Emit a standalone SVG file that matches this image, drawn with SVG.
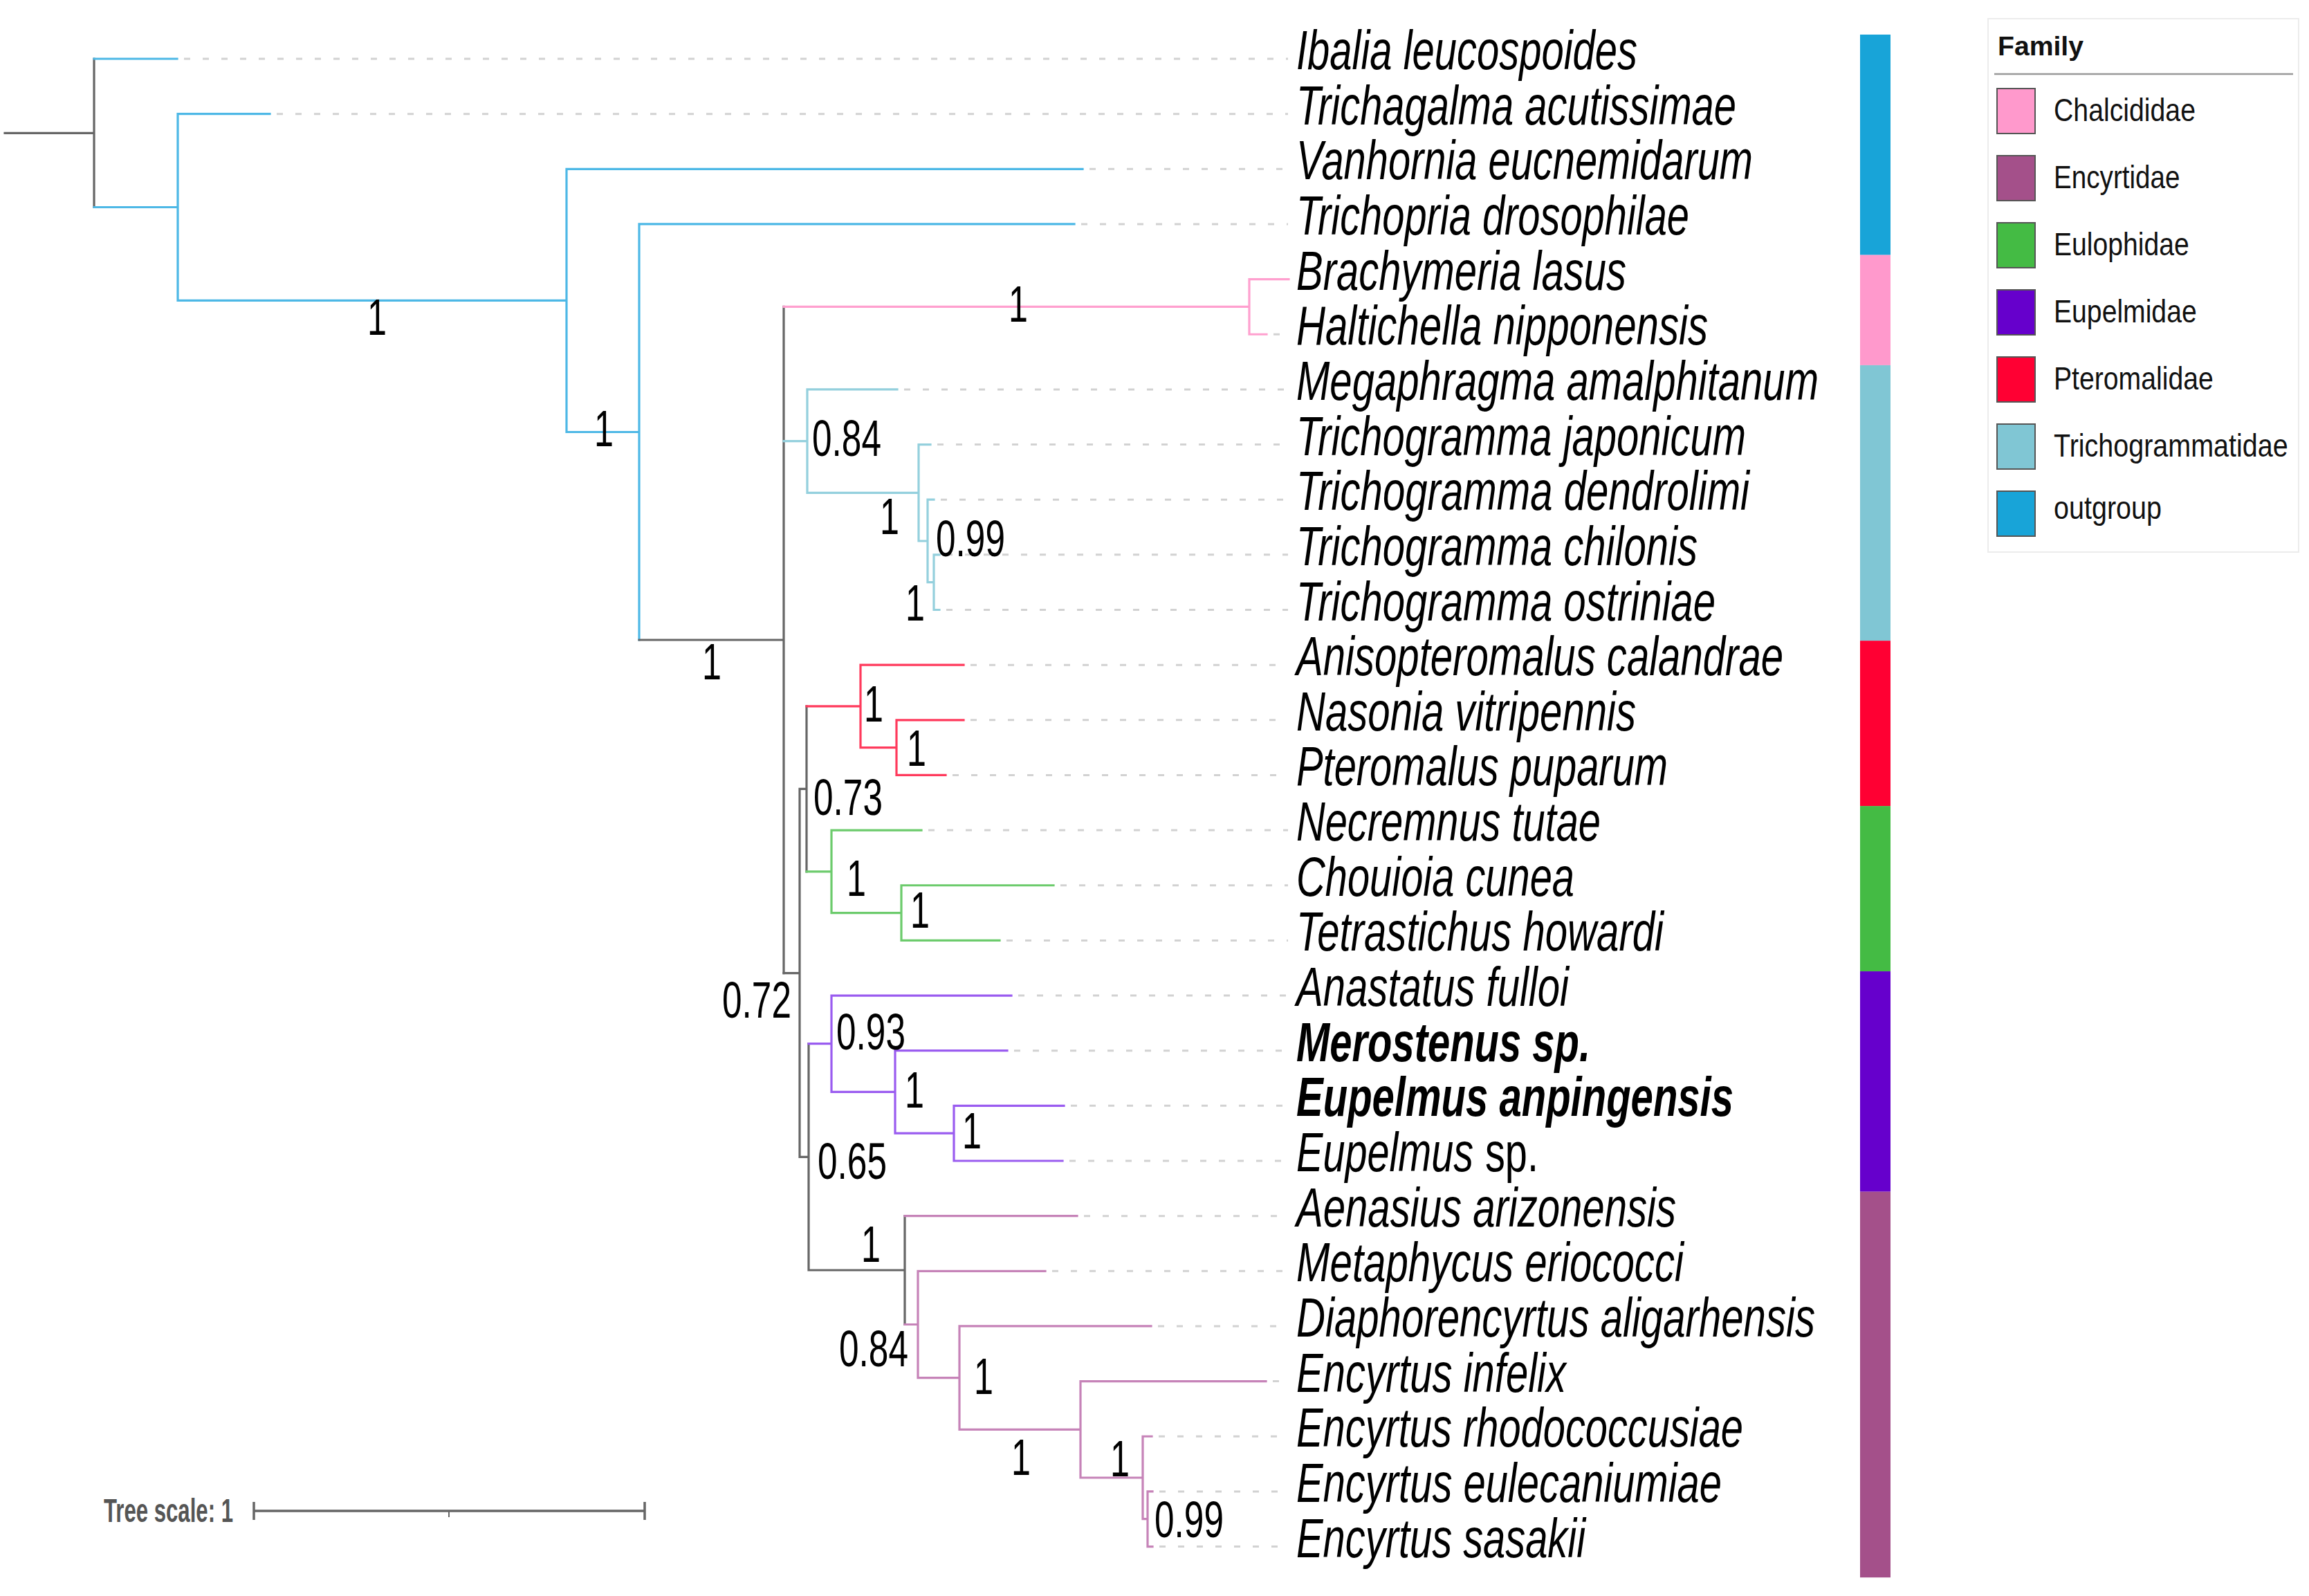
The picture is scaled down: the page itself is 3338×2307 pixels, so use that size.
<svg xmlns="http://www.w3.org/2000/svg" width="3338" height="2307" viewBox="0 0 3338 2307">
<style>
.b{fill:none;stroke-width:3.2;stroke-linecap:square}
.g{stroke:#666}
.o{stroke:#4db8e6}
.c{stroke:#ffa0cf}
.t{stroke:#94d0dd}
.p{stroke:#ff3a5c}
.e{stroke:#6ccb6c}
.u{stroke:#9a5cf0}
.n{stroke:#c683b8}
.d{stroke:#d2d2d2;stroke-width:3;stroke-dasharray:9 18;fill:none}
.sp{font-family:"Liberation Sans",Arial,sans-serif;font-style:italic;font-size:80px;fill:#000}
.bd{font-weight:bold}
.nm{font-family:"Liberation Sans",Arial,sans-serif;font-size:75px;fill:#000}
.lg{font-family:"Liberation Sans",Arial,sans-serif;font-size:47px;fill:#111}
</style>
<rect x="0" y="0" width="3338" height="2307" fill="#fff"/>
<g id="connectors">
<g id="leaders">
<path class="d" d="M266 85H1862M400 164.65H1862M1575 244.3H1862M1563 323.95H1862M1841 483.25H1862M1307 562.9H1862M1355 642.55H1862M1360 722.2H1862M1368 801.85H1862M1368 881.5H1862M1403 961.15H1862M1403 1040.8H1862M1377 1120.45H1862M1342 1200.1H1862M1533 1279.75H1862M1455 1359.4H1862M1472 1439.05H1862M1466 1518.7H1862M1548 1598.35H1862M1546 1678H1862M1567 1757.65H1862M1521 1837.3H1862M1674 1916.95H1862M1840 1996.6H1862M1675 2076.25H1862M1676 2155.9H1862M1676 2235.55H1862"/>
</g>
<path class="b g" d="M7 192.3H136M136 85V299.5"/>
<path class="b o" d="M136 85H256M136 299.5H257M257 164.65V434.4M257 164.65H390M257 434.4H819M819 244.3V624.5M819 244.3H1565M819 624.5H924M924 323.95V925M924 323.95H1553"/>
<path class="b g" d="M924 925H1133M1133 443.4V1406.7"/>
<path class="b c" d="M1133 443.4H1806M1806 403.6V483.25M1806 403.6H1863M1806 483.25H1831"/>
<path class="b t" d="M1133 637.6H1167M1167 562.9V712.3M1167 562.9H1297M1167 712.3H1328M1328 642.55V782M1328 642.55H1345M1328 782H1341M1341 722.2V841.7M1341 722.2H1350M1341 841.7H1350M1350 801.85V881.5M1350 801.85H1358M1350 881.5H1358"/>
<path class="b g" d="M1133 1406.7H1156M1156 1140.4V1672.4M1156 1140.4H1166M1166 1020.9V1259.8M1156 1672.4H1169M1169 1508.7V1836M1169 1836H1308M1308 1757.65V1914.5"/>
<path class="b p" d="M1166 1020.9H1244M1244 961.15V1080.6M1244 961.15H1393M1244 1080.6H1296M1296 1040.8V1120.45M1296 1040.8H1393M1296 1120.45H1367"/>
<path class="b e" d="M1166 1259.8H1202M1202 1200.1V1319.6M1202 1200.1H1332M1202 1319.6H1303M1303 1279.75V1359.4M1303 1279.75H1523M1303 1359.4H1445"/>
<path class="b u" d="M1169 1508.7H1202M1202 1439.05V1578.4M1202 1439.05H1462M1202 1578.4H1294M1294 1518.7V1638.2M1294 1518.7H1456M1294 1638.2H1379M1379 1598.35V1678M1379 1598.35H1538M1379 1678H1536"/>
<path class="b n" d="M1308 1757.65H1557M1308 1914.5H1327M1327 1837.3V1991.6M1327 1837.3H1511M1327 1991.6H1387M1387 1916.95V2066.3M1387 1916.95H1664M1387 2066.3H1562M1562 1996.6V2136M1562 1996.6H1830M1562 2136H1652M1652 2076.25V2195.7M1652 2076.25H1665M1652 2195.7H1659M1659 2155.9V2235.55M1659 2155.9H1666M1659 2235.55H1666"/>
</g>
<g id="support">
<text class="nm" x="531" y="484" textLength="28" lengthAdjust="spacingAndGlyphs">1</text>
<text class="nm" x="859" y="645" textLength="28" lengthAdjust="spacingAndGlyphs">1</text>
<text class="nm" x="1015" y="982" textLength="28" lengthAdjust="spacingAndGlyphs">1</text>
<text class="nm" x="1458" y="465" textLength="28" lengthAdjust="spacingAndGlyphs">1</text>
<text class="nm" x="1174" y="659" textLength="100" lengthAdjust="spacingAndGlyphs">0.84</text>
<text class="nm" x="1272" y="772" textLength="28" lengthAdjust="spacingAndGlyphs">1</text>
<text class="nm" x="1353" y="804" textLength="100" lengthAdjust="spacingAndGlyphs">0.99</text>
<text class="nm" x="1309" y="897" textLength="28" lengthAdjust="spacingAndGlyphs">1</text>
<text class="nm" x="1249" y="1043" textLength="28" lengthAdjust="spacingAndGlyphs">1</text>
<text class="nm" x="1311" y="1107" textLength="28" lengthAdjust="spacingAndGlyphs">1</text>
<text class="nm" x="1176" y="1178" textLength="100" lengthAdjust="spacingAndGlyphs">0.73</text>
<text class="nm" x="1224" y="1295" textLength="28" lengthAdjust="spacingAndGlyphs">1</text>
<text class="nm" x="1316" y="1341" textLength="28" lengthAdjust="spacingAndGlyphs">1</text>
<text class="nm" x="1044" y="1471" textLength="100" lengthAdjust="spacingAndGlyphs">0.72</text>
<text class="nm" x="1209" y="1517" textLength="100" lengthAdjust="spacingAndGlyphs">0.93</text>
<text class="nm" x="1308" y="1601" textLength="28" lengthAdjust="spacingAndGlyphs">1</text>
<text class="nm" x="1391" y="1660" textLength="28" lengthAdjust="spacingAndGlyphs">1</text>
<text class="nm" x="1182" y="1704" textLength="100" lengthAdjust="spacingAndGlyphs">0.65</text>
<text class="nm" x="1245" y="1824" textLength="28" lengthAdjust="spacingAndGlyphs">1</text>
<text class="nm" x="1213" y="1975" textLength="100" lengthAdjust="spacingAndGlyphs">0.84</text>
<text class="nm" x="1408" y="2015" textLength="28" lengthAdjust="spacingAndGlyphs">1</text>
<text class="nm" x="1462" y="2132" textLength="28" lengthAdjust="spacingAndGlyphs">1</text>
<text class="nm" x="1605" y="2134" textLength="28" lengthAdjust="spacingAndGlyphs">1</text>
<text class="nm" x="1669" y="2222" textLength="100" lengthAdjust="spacingAndGlyphs">0.99</text>
</g>
<g id="leaf-labels">
<text id="n0" class="sp" x="1874" y="100" textLength="493" lengthAdjust="spacingAndGlyphs">Ibalia leucospoides</text>
<text id="n1" class="sp" x="1874" y="179.65" textLength="636" lengthAdjust="spacingAndGlyphs">Trichagalma acutissimae</text>
<text id="n2" class="sp" x="1874" y="259.3" textLength="660" lengthAdjust="spacingAndGlyphs">Vanhornia eucnemidarum</text>
<text id="n3" class="sp" x="1874" y="338.95" textLength="568" lengthAdjust="spacingAndGlyphs">Trichopria drosophilae</text>
<text id="n4" class="sp" x="1874" y="418.6" textLength="477" lengthAdjust="spacingAndGlyphs">Brachymeria lasus</text>
<text id="n5" class="sp" x="1874" y="498.25" textLength="595" lengthAdjust="spacingAndGlyphs">Haltichella nipponensis</text>
<text id="n6" class="sp" x="1874" y="577.9" textLength="755" lengthAdjust="spacingAndGlyphs">Megaphragma amalphitanum</text>
<text id="n7" class="sp" x="1874" y="657.55" textLength="650" lengthAdjust="spacingAndGlyphs">Trichogramma japonicum</text>
<text id="n8" class="sp" x="1874" y="737.2" textLength="655" lengthAdjust="spacingAndGlyphs">Trichogramma dendrolimi</text>
<text id="n9" class="sp" x="1874" y="816.85" textLength="580" lengthAdjust="spacingAndGlyphs">Trichogramma chilonis</text>
<text id="n10" class="sp" x="1874" y="896.5" textLength="606" lengthAdjust="spacingAndGlyphs">Trichogramma ostriniae</text>
<text id="n11" class="sp" x="1874" y="976.15" textLength="704" lengthAdjust="spacingAndGlyphs">Anisopteromalus calandrae</text>
<text id="n12" class="sp" x="1874" y="1055.8" textLength="491" lengthAdjust="spacingAndGlyphs">Nasonia vitripennis</text>
<text id="n13" class="sp" x="1874" y="1135.45" textLength="537" lengthAdjust="spacingAndGlyphs">Pteromalus puparum</text>
<text id="n14" class="sp" x="1874" y="1215.1" textLength="440" lengthAdjust="spacingAndGlyphs">Necremnus tutae</text>
<text id="n15" class="sp" x="1874" y="1294.75" textLength="402" lengthAdjust="spacingAndGlyphs">Chouioia cunea</text>
<text id="n16" class="sp" x="1874" y="1374.4" textLength="531" lengthAdjust="spacingAndGlyphs">Tetrastichus howardi</text>
<text id="n17" class="sp" x="1874" y="1454.05" textLength="394" lengthAdjust="spacingAndGlyphs">Anastatus fulloi</text>
<text id="n18" class="sp bd" x="1874" y="1533.7" textLength="425" lengthAdjust="spacingAndGlyphs">Merostenus sp.</text>
<text id="n19" class="sp bd" x="1874" y="1613.35" textLength="632" lengthAdjust="spacingAndGlyphs">Eupelmus anpingensis</text>
<g id="n20">
<text class="sp" x="1874" y="1693" textLength="256" lengthAdjust="spacingAndGlyphs">Eupelmus</text>
<text class="sp" style="font-style:normal" x="2147" y="1693" textLength="77" lengthAdjust="spacingAndGlyphs">sp.</text>
</g>
<text id="n21" class="sp" x="1874" y="1772.65" textLength="549" lengthAdjust="spacingAndGlyphs">Aenasius arizonensis</text>
<text id="n22" class="sp" x="1874" y="1852.3" textLength="560" lengthAdjust="spacingAndGlyphs">Metaphycus eriococci</text>
<text id="n23" class="sp" x="1874" y="1931.95" textLength="750" lengthAdjust="spacingAndGlyphs">Diaphorencyrtus aligarhensis</text>
<text id="n24" class="sp" x="1874" y="2011.6" textLength="390" lengthAdjust="spacingAndGlyphs">Encyrtus infelix</text>
<text id="n25" class="sp" x="1874" y="2091.25" textLength="646" lengthAdjust="spacingAndGlyphs">Encyrtus rhodococcusiae</text>
<text id="n26" class="sp" x="1874" y="2170.9" textLength="615" lengthAdjust="spacingAndGlyphs">Encyrtus eulecaniumiae</text>
<text id="n27" class="sp" x="1874" y="2250.55" textLength="418" lengthAdjust="spacingAndGlyphs">Encyrtus sasakii</text>
</g>
<g id="color-strip">
<rect x="2689" y="50" width="44" height="318.6" fill="#18a4d8"/>
<rect x="2689" y="368.6" width="44" height="159.3" fill="#ff99cc"/>
<rect x="2689" y="527.9" width="44" height="398.25" fill="#80c6d4"/>
<rect x="2689" y="926.15" width="44" height="238.95" fill="#ff0033"/>
<rect x="2689" y="1165.1" width="44" height="238.95" fill="#44bb44"/>
<rect x="2689" y="1404.05" width="44" height="318.6" fill="#6600cc"/>
<rect x="2689" y="1722.65" width="44" height="557.55" fill="#a4508a"/>
</g>
<g id="legend">
<rect x="2874" y="27" width="449" height="771" fill="#fff" stroke="#ececec" stroke-width="2"/>
<text x="2888" y="80" font-family="Liberation Sans, Arial, sans-serif" font-weight="bold" font-size="38" fill="#111" textLength="124" lengthAdjust="spacingAndGlyphs">Family</text>
<line x1="2883" y1="107" x2="3315" y2="107" stroke="#999" stroke-width="2.5"/>
<g stroke="#555" stroke-width="2">
<rect x="2887" y="128" width="55" height="65" fill="#ff99cc"/>
<rect x="2887" y="225" width="55" height="65" fill="#a4508a"/>
<rect x="2887" y="322" width="55" height="65" fill="#44bb44"/>
<rect x="2887" y="419" width="55" height="65" fill="#6600cc"/>
<rect x="2887" y="516" width="55" height="65" fill="#ff0033"/>
<rect x="2887" y="613" width="55" height="65" fill="#80c6d4"/>
<rect x="2887" y="710" width="55" height="65" fill="#18a4d8"/>
</g>
<g transform="translate(2969 0) scale(0.83 1)">
<text class="lg" x="0" y="175" textLength="247" lengthAdjust="spacingAndGlyphs">Chalcididae</text>
<text class="lg" x="0" y="272" textLength="220" lengthAdjust="spacingAndGlyphs">Encyrtidae</text>
<text class="lg" x="0" y="369" textLength="236" lengthAdjust="spacingAndGlyphs">Eulophidae</text>
<text class="lg" x="0" y="466" textLength="249" lengthAdjust="spacingAndGlyphs">Eupelmidae</text>
<text class="lg" x="0" y="563" textLength="278" lengthAdjust="spacingAndGlyphs">Pteromalidae</text>
<text class="lg" x="0" y="660" textLength="408" lengthAdjust="spacingAndGlyphs">Trichogrammatidae</text>
<text class="lg" x="0" y="750" textLength="188" lengthAdjust="spacingAndGlyphs">outgroup</text>
</g>
</g>
<g id="tree-scale">
<text x="150" y="2200" font-family="Liberation Sans, Arial, sans-serif" font-weight="bold" font-size="48" fill="#555" textLength="187" lengthAdjust="spacingAndGlyphs">Tree scale: 1</text>
<path d="M367 2184H932M367 2171V2197M932 2171V2197" stroke="#666" stroke-width="3.5" fill="none"/>
<path d="M649 2184V2193" stroke="#666" stroke-width="2" fill="none"/>
</g>
</svg>
